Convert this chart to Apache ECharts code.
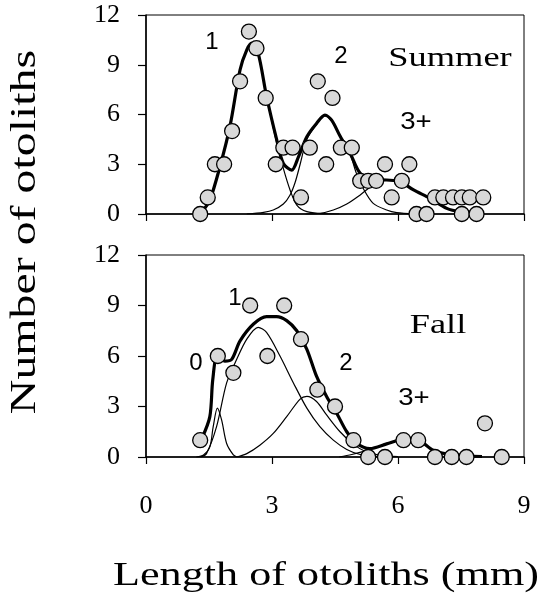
<!DOCTYPE html>
<html>
<head>
<meta charset="utf-8">
<script src="https://cdn.jsdelivr.net/npm/echarts@6/dist/echarts.min.js"></script>
<style>
html, body { margin: 0; padding: 0; background: #fff; }
#chart { width: 539px; height: 603px; }
</style>
</head>
<body>
<div id="chart"></div>
<script>
// x ticks / y ticks
var xTicks = [0, 3, 6, 9];
var yTicks = [0, 3, 6, 9, 12];

// Summer: counts per length (mm)
var summerPoints = [
	[1.29, 0], [1.47, 1], [1.64, 3], [1.86, 3], [2.05, 5], [2.24, 8], [2.45, 11], [2.63, 10],
	[2.85, 7], [3.09, 3], [3.27, 4], [3.49, 4], [3.69, 1], [3.90, 4], [4.09, 8], [4.29, 3],
	[4.44, 7], [4.64, 4], [4.90, 4], [5.10, 2], [5.29, 2], [5.48, 2], [5.69, 3], [5.85, 1],
	[6.09, 2], [6.27, 3], [6.44, 0], [6.68, 0], [6.88, 1], [7.08, 1], [7.31, 1], [7.52, 1],
	[7.71, 1], [8.03, 1], [7.52, 0], [7.87, 0]
];
// fitted curves
var summerTotal = [
	[1.35, 0.2], [1.52, 0.84], [1.76, 2.85], [2.0, 5.3], [2.24, 8.7], [2.4, 9.9], [2.52, 10.3],
	[2.67, 9.7], [2.87, 7.1], [3.11, 4.5], [3.27, 3.05], [3.47, 2.65], [3.63, 3.45], [3.83, 4.66],
	[4.06, 5.46], [4.26, 5.96], [4.42, 5.66], [4.62, 4.7], [4.86, 3.66], [5.1, 2.45], [5.4, 2.1],
	[5.73, 2.05], [6.05, 1.95], [6.37, 1.45], [6.76, 0.95], [7.16, 0.34], [7.48, 0.14], [8.0, 0.04]
];
var summerAge1 = [
	[1.35, 0.2], [1.52, 0.84], [1.76, 2.85], [2.0, 5.3], [2.24, 8.7], [2.4, 9.9], [2.52, 10.3],
	[2.67, 9.7], [2.87, 7.1], [3.11, 4.3], [3.27, 2.75], [3.43, 1.45], [3.59, 0.54], [3.83, 0.14],
	[4.2, 0.02], [4.6, 0]
];
var summerAge2 = [
	[2.4, 0], [2.8, 0.1], [3.03, 0.24], [3.27, 0.6], [3.43, 1.15], [3.55, 1.9], [3.67, 3.0],
	[3.83, 4.5], [4.06, 5.4], [4.26, 5.93], [4.42, 5.6], [4.62, 4.7], [4.86, 3.6], [5.01, 2.45],
	[5.17, 1.55], [5.41, 0.64], [5.73, 0.24], [5.97, 0.08], [6.4, 0]
];
var summerAge3 = [
	[3.8, 0], [4.14, 0.04], [4.46, 0.24], [4.78, 0.6], [5.1, 1.15], [5.41, 1.75], [5.73, 2.05],
	[6.05, 1.95], [6.37, 1.45], [6.76, 0.95], [7.16, 0.34], [7.48, 0.14], [8.0, 0.04]
];

// Fall
var fallPoints = [
	[1.29, 1], [1.71, 6], [2.08, 5], [2.48, 9], [2.89, 6], [3.29, 9], [3.69, 7], [4.08, 4],
	[4.50, 3], [4.94, 1], [5.29, 0], [5.69, 0], [6.13, 1], [6.48, 1], [6.88, 0], [7.28, 0],
	[7.63, 0], [8.07, 2], [8.47, 0]
];
var fallTotal = [
	[1.33, 1.1], [1.52, 2.4], [1.59, 4.6], [1.7, 6.0], [1.88, 5.7], [2.04, 5.8], [2.24, 6.9],
	[2.56, 7.9], [2.87, 8.34], [3.11, 8.34], [3.35, 8.1], [3.59, 7.5], [3.83, 6.4], [4.06, 4.8],
	[4.3, 3.6], [4.54, 2.6], [4.78, 1.5], [5.02, 0.8], [5.33, 0.5], [5.73, 0.78], [6.13, 1.05],
	[6.48, 1.0], [6.84, 0.4], [7.32, 0.12], [8.0, 0.03]
];
var fallAge0 = [
	[1.2, 0], [1.37, 0.12], [1.52, 0.6], [1.6, 1.8], [1.7, 2.9], [1.8, 2.2], [1.92, 0.8],
	[2.08, 0.12], [2.16, 0]
];
var fallAge1 = [
	[1.3, 0], [1.44, 0.2], [1.68, 1.8], [1.92, 4.4], [2.16, 5.8], [2.4, 7.0], [2.67, 7.7],
	[2.87, 7.4], [3.19, 6.0], [3.51, 4.4], [3.83, 2.9], [4.14, 1.8], [4.46, 1.0], [4.78, 0.45],
	[5.1, 0.15], [5.5, 0.03]
];
var fallAge2 = [
	[2.16, 0], [2.4, 0.2], [2.71, 0.7], [3.03, 1.4], [3.35, 2.4], [3.67, 3.44], [3.83, 3.6],
	[4.06, 3.3], [4.3, 2.5], [4.62, 1.5], [4.94, 0.75], [5.25, 0.3], [5.6, 0.1], [6.0, 0.03]
];
var fallAge3 = [
	[4.6, 0], [4.9, 0.15], [5.2, 0.35], [5.5, 0.6], [5.8, 0.85], [6.13, 1.0], [6.48, 0.95],
	[6.84, 0.4], [7.32, 0.12], [8.0, 0.03]
];

var serif = "'Liberation Serif', 'Times New Roman', serif";
var sans = "'Liberation Sans', Arial, sans-serif";

function xAxisCfg(idx, showLabels) {
	return {
		type: 'value', gridIndex: idx, min: xTicks[0], max: xTicks[xTicks.length - 1], interval: 3,
		axisLine: { show: true, lineStyle: { color: '#000', width: 1.5 } },
		axisTick: { show: true, length: 7, lineStyle: { color: '#000', width: 1.2 } },
		axisLabel: { show: showLabels, margin: 36, color: '#000', fontFamily: serif, fontSize: 26 },
		splitLine: { show: false }
	};
}
function yAxisCfg(idx) {
	return {
		type: 'value', gridIndex: idx, min: yTicks[0], max: yTicks[yTicks.length - 1], interval: 3,
		axisLine: { show: true, lineStyle: { color: '#000', width: 1.5 } },
		axisTick: { show: true, length: 8, lineStyle: { color: '#000', width: 1.2 } },
		axisLabel: { margin: 26, color: '#000', fontFamily: serif, fontSize: 26 },
		splitLine: { show: false }
	};
}
function curve(data, idx, thick) {
	return {
		type: 'line', xAxisIndex: idx, yAxisIndex: idx, data: data, smooth: 0.3,
		showSymbol: false, symbol: 'none', silent: true, z: thick ? 3 : 2,
		lineStyle: { color: '#000', width: thick ? 3.2 : 1.2 }
	};
}
function dots(data, idx) {
	return {
		type: 'scatter', xAxisIndex: idx, yAxisIndex: idx, data: data, symbolSize: 15, z: 5,
		itemStyle: { color: '#d8d8d8', borderColor: '#000', borderWidth: 1.3, opacity: 1 }
	};
}
function label(txt, x, y, font, size, sx) {
	return {
		type: 'text', x: x, y: y, scaleX: sx || 1, z: 10,
		style: { text: txt, fontFamily: font, fontSize: size, fill: '#000', align: 'center', verticalAlign: 'middle' }
	};
}

var myChart = echarts.init(document.getElementById('chart'));
var option = {
	animation: false,
	backgroundColor: '#fff',
	grid: [
		{ left: 146, top: 15, width: 378, height: 199, show: true, borderColor: '#000', borderWidth: 1 },
		{ left: 146, top: 255, width: 378, height: 202, show: true, borderColor: '#000', borderWidth: 1 }
	],
	xAxis: [xAxisCfg(0, false), xAxisCfg(1, true)],
	yAxis: [yAxisCfg(0), yAxisCfg(1)],
	series: [
		curve(summerAge1, 0, false),
		curve(summerAge2, 0, false),
		curve(summerAge3, 0, false),
		curve(summerTotal, 0, true),
		dots(summerPoints, 0),
		curve(fallAge0, 1, false),
		curve(fallAge1, 1, false),
		curve(fallAge2, 1, false),
		curve(fallAge3, 1, false),
		curve(fallTotal, 1, true),
		dots(fallPoints, 1)
	],
	graphic: [
		label('1', 212, 42, sans, 24),
		label('2', 341, 56, sans, 24),
		label('3+', 416, 122, sans, 24, 1.15),
		label('Summer', 450, 59, serif, 28, 1.3),
		label('1', 235, 298, sans, 24),
		label('0', 196, 363, sans, 24),
		label('2', 346, 363, sans, 24),
		label('3+', 414, 398, sans, 24, 1.15),
		label('Fall', 438, 326, serif, 28, 1.3),
		{
			type: 'text', x: 26, y: 232, rotation: Math.PI / 2, scaleX: 1.33, z: 10,
			style: { text: 'Number of otoliths', fontFamily: serif, fontSize: 36, fill: '#000', align: 'center', verticalAlign: 'middle' }
		},
		label('Length of otoliths (mm)', 326, 576, serif, 34, 1.3)
	]
};
myChart.setOption(option);
</script>
</body>
</html>
